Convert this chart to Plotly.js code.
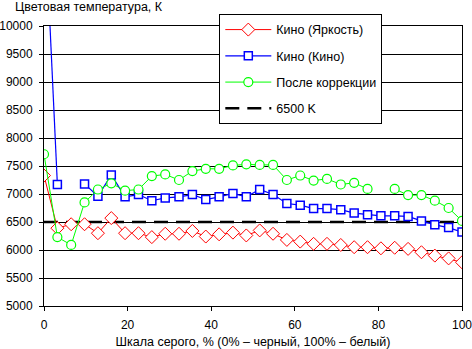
<!DOCTYPE html>
<html>
<head>
<meta charset="utf-8">
<script src="https://cdn.plot.ly/plotly-3.0.1.min.js"></script>
<style>html,body{margin:0;padding:0;background:#fff}#chart{width:472px;height:349px}</style>
</head>
<body>
<div id="chart"></div>
<script>
var grayLevels = [0, 3.2, 6.5, 9.7, 12.9, 16.1, 19.4, 22.6, 25.8, 29.0, 32.3, 35.5, 38.7, 41.9, 45.2, 48.4,
                  51.6, 54.8, 58.1, 61.3, 64.5, 67.7, 71.0, 74.2, 77.4, 80.6, 83.9, 87.1, 90.3, 93.5, 96.8, 100];
var kinoBrightness = [7330, 6390, 6460, 6460, 6300, 6570, 6300, 6300, 6230, 6290, 6290, 6340, 6240, 6280, 6310, 6260,
                      6350, 6290, 6180, 6150, 6110, 6110, 6090, 6050, 6050, 6030, 6040, 6020, 5960, 5900, 5850, 5780];
var kinoKino = [12300, 7170, null, 7180, 6960, 7340, 6950, 6990, 6880, 6930, 6950, 6990, 6900, 6950, 7010, 6950,
                7080, 6990, 6830, 6800, 6740, 6740, 6720, 6660, 6630, 6610, 6610, 6600, 6520, 6450, 6400, 6320];
var afterCorrection = [7710, 6230, 6090, 6850, 7080, 7190, 7060, 7080, 7320, 7350, 7250, 7410, 7450, 7450, 7510, 7530,
                       7520, 7520, 7250, 7330, 7240, 7270, 7170, 7200, 7090, null, 7090, 6980, 6980, 6880, 6750, 6520];
var refX = [0, 100];
var refY = [6500, 6500];
var seriesNames = ["Кино (Яркость)", "Кино (Кино)", "После коррекции", "6500 K"];
var yTitle = "Цветовая температура, К";
var xTitle = "Шкала серого, % (0% – черный, 100% – белый)";

var fam = "Liberation Sans, Arial, sans-serif";
var font = {family: fam, size: 12.5, color: "#000"};
var tickFont = {family: fam, size: 12, color: "#000"};

var traces = [
  {x: refX, y: refY, name: seriesNames[3], mode: "lines", legendgroup: "d", legendrank: 4,
   line: {color: "#000", width: 2.5, dash: "14px,8px"}},
  {x: grayLevels, y: kinoBrightness, name: seriesNames[0], mode: "lines+markers", legendgroup: "a", legendrank: 1,
   line: {color: "#ff0000", width: 1},
   marker: {symbol: "diamond", size: 10, color: "#fff", line: {color: "#ff0000", width: 1}}},
  {x: grayLevels, y: kinoKino, name: seriesNames[1], mode: "lines+markers", legendgroup: "b", legendrank: 2,
   line: {color: "#0000ff", width: 1.2},
   marker: {symbol: "square", size: 8, color: "#fff", line: {color: "#0000ff", width: 1.5}}},
  {x: grayLevels, y: afterCorrection, name: seriesNames[2], mode: "lines+markers", legendgroup: "c", legendrank: 3,
   line: {color: "#00ff00", width: 1},
   marker: {symbol: "circle", size: 9, color: "#fff", line: {color: "#00ff00", width: 1.2}}}
];

var layout = {
  width: 472, height: 349,
  margin: {l: 44, r: 10, t: 26, b: 43},
  paper_bgcolor: "#fff", plot_bgcolor: "#fff",
  font: font,
  showlegend: true,
  annotations: [{
    text: yTitle, font: font, showarrow: false,
    xref: "paper", yref: "paper",
    x: 0, xshift: -31, xanchor: "left",
    y: 1, yshift: 19, yanchor: "middle"
  }],
  legend: {
    x: 0.4194, y: 1.043, xanchor: "left", yanchor: "top",
    bgcolor: "#fff", bordercolor: "#000", borderwidth: 1,
    font: font, tracegroupgap: 7, itemwidth: 46, traceorder: "grouped"
  },
  xaxis: {
    range: [0, 100], dtick: 20, tick0: 0,
    showgrid: false, zeroline: false,
    showline: true, linecolor: "#000", linewidth: 1, mirror: true,
    ticks: "outside", ticklen: 4, tickcolor: "#000",
    tickfont: tickFont, ticklabelstandoff: 4, ticklabeloverflow: "allow",
    title: {text: xTitle, font: font, standoff: 7}
  },
  yaxis: {
    range: [5000, 10000], dtick: 500, tick0: 5000, tickformat: "d",
    showgrid: true, gridcolor: "#000", gridwidth: 1, zeroline: false,
    showline: true, linecolor: "#000", linewidth: 1, mirror: true,
    ticks: "outside", ticklen: 4, tickcolor: "#000",
    tickfont: tickFont, ticklabelstandoff: 4
  }
};

Plotly.newPlot("chart", traces, layout, {staticPlot: true});
</script>
</body>
</html>
